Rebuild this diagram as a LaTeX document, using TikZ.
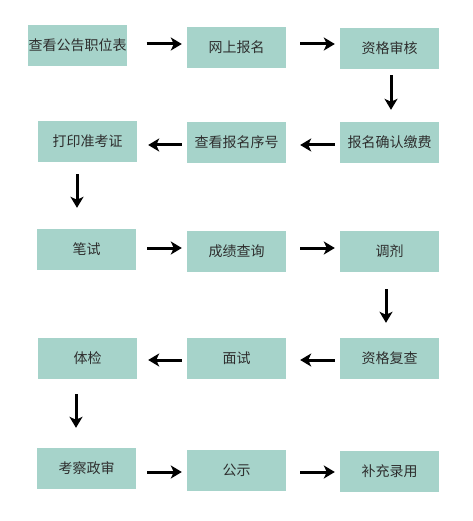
\documentclass[tikz,border=0pt]{standalone}
\usepackage{fontspec}
\usepackage{tikz}
\usepackage{xcolor}
\usetikzlibrary{arrows.meta}
\newfontfamily\cjk{Noto Sans CJK SC}
\definecolor{boxteal}{HTML}{A6D3CA}
\definecolor{boxtext}{HTML}{2E2E2E}
\tikzset{
    step-box/.style = {fill=boxteal, rectangle, inner sep=0pt, minimum width=99pt, minimum height=41pt, text=boxtext, font=\cjk\fontsize{14pt}{16pt}\selectfont},
    flow-arrow/.style = {line width=3pt, -{Stealth[length=11pt, width=13pt, inset=3pt]}},
    go-right/.style = {flow-arrow, shorten <=14pt, shorten >=5pt},
    go-left/.style = {flow-arrow, shorten <=5pt, shorten >=14pt},
}

\begin{document}
\begin{tikzpicture}[x=1pt, y=-1pt]
\useasboundingbox (0,0) rectangle (472,521);

% row 1
\node [step-box] (notice) at (77.5,45.5) {查看公告职位表};
\node [step-box] (signup) at (236.5,47.5) {网上报名};
\node [step-box] (review) at (389.5,48.5) {资格审核};
% row 2
\node [step-box] (print) at (87.5,141.5) {打印准考证};
\node [step-box] (number) at (236.5,142.5) {查看报名序号};
\node [step-box] (confirm) at (389.5,142.5) {报名确认缴费};
% row 3
\node [step-box] (written) at (86.5,249.5) {笔试};
\node [step-box] (score) at (236.5,251.5) {成绩查询};
\node [step-box] (adjust) at (389.5,251.5) {调剂};
% row 4
\node [step-box] (medical) at (87.5,358.5) {体检};
\node [step-box] (interview) at (236.5,358.5) {面试};
\node [step-box] (recheck) at (389.5,358.5) {资格复查};
% row 5
\node [step-box] (political) at (86.5,468.5) {考察政审};
\node [step-box] (publicity) at (236.5,470.5) {公示};
\node [step-box] (extra) at (389.5,471.5) {补充录用};

\draw [go-right, shorten <=19.5pt] ([yshift=1.5pt]notice.east) -- ([yshift=1.5pt]signup.west |- notice.east);
\draw [go-right] ([yshift=3.5pt]signup.east) -- ([yshift=3.5pt]review.west |- signup.east);
\draw [flow-arrow, shorten <=6pt, shorten >=12pt] ([xshift=1.5pt]review.south) -- ([xshift=1.5pt]confirm.north);
\draw [go-left, shorten >=14pt] ([yshift=-2.5pt]confirm.west) -- ([yshift=-2.5pt]number.east);
\draw [go-left, shorten >=11pt] ([yshift=-2.5pt]number.west) -- ([yshift=-2.5pt]print.east |- number.west);
\draw [flow-arrow, shorten <=12pt, shorten >=21pt] ([xshift=-10.5pt]print.south) -- ([xshift=-10.5pt]print.south |- written.north);
\draw [go-right, shorten <=11pt] ([yshift=1.5pt]written.east) -- ([yshift=1.5pt]score.west |- written.east);
\draw [go-right] ([yshift=3.5pt]score.east) -- ([yshift=3.5pt]adjust.west);
\draw [flow-arrow, shorten <=17pt, shorten >=15pt] ([xshift=-3.5pt]adjust.south) -- ([xshift=-3.5pt]recheck.north);
\draw [go-left] ([yshift=-1.5pt]recheck.west) -- ([yshift=-1.5pt]interview.east);
\draw [go-left, shorten >=11pt] ([yshift=-1.5pt]interview.west) -- ([yshift=-1.5pt]medical.east);
\draw [flow-arrow, shorten <=15pt, shorten >=20pt] ([xshift=-11.5pt]medical.south) -- ([xshift=-11.5pt]medical.south |- political.north);
\draw [go-right, shorten <=11pt] ([yshift=-3.5pt]political.east) -- ([yshift=-3.5pt]publicity.west |- political.east);
\draw [go-right] ([yshift=-1.5pt]publicity.east) -- ([yshift=-1.5pt]extra.west |- publicity.east);
\end{tikzpicture}
\end{document}
